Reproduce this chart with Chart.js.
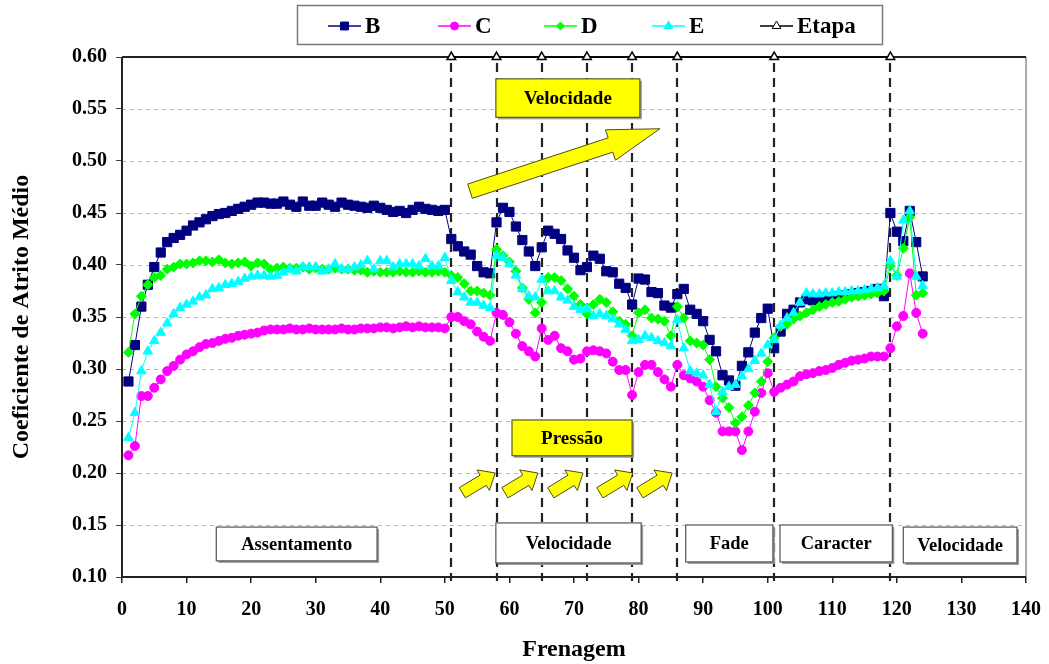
<!DOCTYPE html>
<html>
<head>
<meta charset="utf-8">
<script src="https://cdn.jsdelivr.net/npm/chart.js@4.4.0/dist/chart.umd.min.js"></script>
<style>
  html, body { margin: 0; padding: 0; background: #fff; }
  #wrap { width: 1049px; height: 664px; }
</style>
</head>
<body>
<div id="wrap"><canvas id="grafico" width="1049" height="664"></canvas></div>
<script>
// Coeficiente de atrito médio por frenagem, materiais B, C, D e E
var serieB = [
  0.288, 0.323, 0.360, 0.381, 0.398, 0.412, 0.422, 0.426, 0.429, 0.433,
  0.438, 0.441, 0.444, 0.447, 0.449, 0.450, 0.452, 0.454, 0.456, 0.458,
  0.460, 0.460, 0.459, 0.459, 0.461, 0.458, 0.456, 0.461, 0.457, 0.457,
  0.460, 0.458, 0.456, 0.460, 0.458, 0.457, 0.456, 0.455, 0.457, 0.455,
  0.453, 0.451, 0.452, 0.450, 0.453, 0.456, 0.454, 0.453, 0.452, 0.453,
  0.425, 0.418, 0.413, 0.410, 0.399, 0.393, 0.392, 0.441, 0.455, 0.451,
  0.437, 0.424, 0.413, 0.399, 0.417, 0.433, 0.430, 0.425, 0.414, 0.407,
  0.395, 0.398, 0.409, 0.406, 0.394, 0.393, 0.382, 0.378, 0.362, 0.387,
  0.386, 0.374, 0.373, 0.361, 0.359, 0.372, 0.377, 0.357, 0.353, 0.346,
  0.328, 0.317, 0.294, 0.289, 0.284, 0.303, 0.316, 0.335, 0.349, 0.358,
  0.320, 0.336, 0.353, 0.357, 0.364, 0.367, 0.366, 0.367, 0.369, 0.369,
  0.370, 0.371, 0.372, 0.373, 0.374, 0.375, 0.377, 0.370, 0.450, 0.432,
  0.423, 0.452, 0.422, 0.389
];
var serieC = [
  0.217, 0.226, 0.274, 0.274, 0.282, 0.290, 0.298, 0.303, 0.309, 0.314,
  0.317, 0.321, 0.324, 0.325, 0.327, 0.329, 0.330, 0.332, 0.333, 0.334,
  0.335, 0.337, 0.338, 0.338, 0.338, 0.339, 0.338, 0.338, 0.339, 0.338,
  0.338, 0.338, 0.338, 0.339, 0.338, 0.338, 0.339, 0.339, 0.339, 0.340,
  0.340, 0.339, 0.340, 0.341, 0.340, 0.341, 0.340, 0.340, 0.340, 0.339,
  0.350, 0.350, 0.346, 0.343, 0.336, 0.331, 0.327, 0.354, 0.352, 0.345,
  0.334, 0.322, 0.317, 0.312, 0.339, 0.328, 0.332, 0.320, 0.317, 0.309,
  0.310, 0.317, 0.318, 0.317, 0.315, 0.307, 0.299, 0.299, 0.275, 0.297,
  0.304, 0.304, 0.297, 0.290, 0.283, 0.304, 0.294, 0.291, 0.288, 0.283,
  0.270, 0.258, 0.240, 0.240, 0.240, 0.222, 0.240, 0.259, 0.277, 0.296,
  0.278, 0.282, 0.285, 0.288, 0.293, 0.295, 0.296, 0.298, 0.299, 0.301,
  0.304, 0.306, 0.308, 0.309, 0.310, 0.312, 0.312, 0.312, 0.320, 0.341,
  0.351, 0.392, 0.354, 0.334
];
var serieD = [
  0.316, 0.353, 0.370, 0.381, 0.388, 0.390, 0.396, 0.398, 0.401, 0.401,
  0.402, 0.404, 0.404, 0.403, 0.405, 0.402, 0.401, 0.402, 0.403, 0.399,
  0.402, 0.401, 0.396, 0.397, 0.398, 0.397, 0.397, 0.398, 0.396, 0.397,
  0.396, 0.396, 0.397, 0.396, 0.396, 0.395, 0.395, 0.393, 0.394, 0.393,
  0.393, 0.393, 0.394, 0.393, 0.393, 0.394, 0.393, 0.393, 0.394, 0.393,
  0.390, 0.388, 0.382, 0.375, 0.375, 0.373, 0.371, 0.415, 0.409, 0.403,
  0.394, 0.378, 0.367, 0.354, 0.364, 0.388, 0.388, 0.385, 0.377, 0.370,
  0.362, 0.353, 0.362, 0.367, 0.364, 0.355, 0.346, 0.343, 0.332, 0.354,
  0.357, 0.349, 0.348, 0.346, 0.332, 0.360, 0.349, 0.327, 0.325, 0.323,
  0.309, 0.283, 0.272, 0.263, 0.248, 0.254, 0.265, 0.277, 0.288, 0.307,
  0.330, 0.341, 0.343, 0.348, 0.351, 0.354, 0.357, 0.360, 0.362, 0.364,
  0.365, 0.367, 0.369, 0.370, 0.371, 0.372, 0.373, 0.375, 0.399, 0.390,
  0.416, 0.446, 0.371, 0.373
];
var serieE = [
  0.234, 0.258, 0.298, 0.317, 0.327, 0.335, 0.344, 0.353, 0.359, 0.362,
  0.365, 0.369, 0.371, 0.377, 0.378, 0.381, 0.382, 0.384, 0.387, 0.389,
  0.390, 0.390, 0.389, 0.390, 0.393, 0.396, 0.394, 0.398, 0.398, 0.398,
  0.394, 0.396, 0.401, 0.396, 0.396, 0.398, 0.400, 0.404, 0.396, 0.404,
  0.404, 0.398, 0.401, 0.401, 0.401, 0.399, 0.406, 0.399, 0.399, 0.407,
  0.385, 0.374, 0.369, 0.364, 0.364, 0.361, 0.359, 0.409, 0.407, 0.401,
  0.390, 0.377, 0.370, 0.369, 0.386, 0.375, 0.375, 0.369, 0.366, 0.360,
  0.357, 0.358, 0.351, 0.353, 0.351, 0.348, 0.343, 0.338, 0.327, 0.328,
  0.332, 0.330, 0.327, 0.325, 0.322, 0.347, 0.320, 0.298, 0.296, 0.294,
  0.285, 0.259, 0.278, 0.283, 0.285, 0.293, 0.300, 0.308, 0.315, 0.323,
  0.328, 0.342, 0.349, 0.354, 0.364, 0.373, 0.372, 0.372, 0.373, 0.373,
  0.374, 0.374, 0.375, 0.375, 0.376, 0.377, 0.378, 0.380, 0.404, 0.389,
  0.443, 0.452, 0.389, 0.380
];

// número da frenagem de cada ponto
var frenagem = [];
for (var n = 1; n <= serieB.length; n++) frenagem.push(n);

// início de cada etapa do ensaio
var etapas = [51, 58, 65, 72, 79, 86, 101, 119];
var etapaNivel = [0.6, 0.6, 0.6, 0.6, 0.6, 0.6, 0.6, 0.6];

var FONTE = '"Liberation Serif", "Times New Roman", serif';

function pontos(valores) {
  return valores.map(function (v, i) { return { x: frenagem[i], y: v }; });
}

// caixas de texto em coordenadas do gráfico
var caixas = [
  { texto: 'Assentamento', x0: 14.6, x1: 39.5, y0: 0.1155, y1: 0.148, fundo: '#ffffff' },
  { texto: 'Velocidade', x0: 57.9, x1: 80.4, y0: 0.1135, y1: 0.152, fundo: '#ffffff' },
  { texto: 'Fade', x0: 87.3, x1: 100.8, y0: 0.1145, y1: 0.150, fundo: '#ffffff' },
  { texto: 'Caracter', x0: 101.9, x1: 119.3, y0: 0.1145, y1: 0.150, fundo: '#ffffff' },
  { texto: 'Velocidade', x0: 121.0, x1: 138.6, y0: 0.1135, y1: 0.148, fundo: '#ffffff' },
  { texto: 'Velocidade', x0: 57.9, x1: 80.2, y0: 0.542, y1: 0.579, fundo: '#ffff00' },
  { texto: 'Pressão', x0: 60.4, x1: 79.0, y0: 0.2166, y1: 0.251, fundo: '#ffff00' }
];

// setas amarelas: origem e ponta
var setas = [
  { de: [53.9, 0.471], ate: [83.3, 0.531], corpo: 15, cabeca: 32, ponta: 52 },
  { de: [52.7, 0.181], ate: [57.8, 0.200], corpo: 12, cabeca: 24, ponta: 14 },
  { de: [59.3, 0.181], ate: [64.4, 0.200], corpo: 12, cabeca: 24, ponta: 14 },
  { de: [66.4, 0.181], ate: [71.4, 0.200], corpo: 12, cabeca: 24, ponta: 14 },
  { de: [74.0, 0.181], ate: [79.1, 0.200], corpo: 12, cabeca: 24, ponta: 14 },
  { de: [80.2, 0.181], ate: [85.2, 0.200], corpo: 12, cabeca: 24, ponta: 14 }
];

function marcador(ctx, tipo, x, y, r, fundo, borda) {
  ctx.save();
  ctx.fillStyle = fundo;
  ctx.strokeStyle = borda;
  ctx.lineWidth = 1;
  ctx.beginPath();
  if (tipo === 'rect') {
    ctx.rect(x - r * 0.72, y - r * 0.72, r * 1.44, r * 1.44);
  } else if (tipo === 'circle') {
    ctx.arc(x, y, r, 0, Math.PI * 2);
  } else if (tipo === 'rectRot') {
    ctx.moveTo(x, y - r); ctx.lineTo(x + r, y); ctx.lineTo(x, y + r); ctx.lineTo(x - r, y);
    ctx.closePath();
  } else if (tipo === 'triangle') {
    ctx.moveTo(x, y - r); ctx.lineTo(x + r * 0.87, y + r * 0.5); ctx.lineTo(x - r * 0.87, y + r * 0.5);
    ctx.closePath();
  }
  ctx.fill();
  ctx.stroke();
  ctx.restore();
}

function desenhaSeta(ctx, x0, y0, x1, y1, corpo, cabeca, ponta) {
  var dx = x1 - x0, dy = y1 - y0, len = Math.hypot(dx, dy);
  var ux = dx / len, uy = dy / len, px = -uy, py = ux;
  var bx = x1 - ux * ponta, by = y1 - uy * ponta;
  ctx.save();
  ctx.beginPath();
  ctx.moveTo(x0 + px * corpo / 2, y0 + py * corpo / 2);
  ctx.lineTo(bx + px * corpo / 2, by + py * corpo / 2);
  ctx.lineTo(bx + px * cabeca / 2, by + py * cabeca / 2);
  ctx.lineTo(x1, y1);
  ctx.lineTo(bx - px * cabeca / 2, by - py * cabeca / 2);
  ctx.lineTo(bx - px * corpo / 2, by - py * corpo / 2);
  ctx.lineTo(x0 - px * corpo / 2, y0 - py * corpo / 2);
  ctx.closePath();
  ctx.fillStyle = '#ffff00';
  ctx.fill();
  ctx.strokeStyle = '#4a4a20';
  ctx.lineWidth = 1;
  ctx.stroke();
  ctx.restore();
}

var anotacoes = {
  id: 'anotacoes',
  beforeDatasetsDraw: function (chart) {
    var ctx = chart.ctx, a = chart.chartArea;
    var xs = chart.scales.x, ys = chart.scales.y;
    ctx.save();
    // grade horizontal tracejada
    ctx.strokeStyle = '#b8b8b8';
    ctx.lineWidth = 1;
    ctx.setLineDash([4, 4]);
    ys.ticks.forEach(function (t) {
      var y = Math.round(ys.getPixelForValue(t.value)) + 0.5;
      ctx.beginPath();
      ctx.moveTo(a.left, y); ctx.lineTo(a.right, y);
      ctx.stroke();
    });
    ctx.setLineDash([]);
    // moldura da área de plotagem
    ctx.strokeStyle = '#8c8c8c';
    ctx.lineWidth = 1.5;
    ctx.beginPath();
    ctx.moveTo(a.right, a.top); ctx.lineTo(a.right, a.bottom);
    ctx.stroke();
    ctx.strokeStyle = '#222';
    ctx.lineWidth = 2;
    ctx.beginPath();
    ctx.moveTo(a.left, a.top); ctx.lineTo(a.right, a.top);
    ctx.moveTo(a.left, a.top); ctx.lineTo(a.left, a.bottom); ctx.lineTo(a.right, a.bottom);
    ctx.stroke();
    // linhas tracejadas das etapas
    ctx.strokeStyle = '#222';
    ctx.lineWidth = 2.2;
    ctx.setLineDash([9, 6]);
    etapas.forEach(function (e, i) {
      var x = Math.round(xs.getPixelForValue(e));
      ctx.beginPath();
      ctx.moveTo(x, ys.getPixelForValue(etapaNivel[i]) + 6);
      ctx.lineTo(x, a.bottom + 4);
      ctx.stroke();
    });
    ctx.restore();
  },
  afterDatasetsDraw: function (chart) {
    var ctx = chart.ctx;
    var xs = chart.scales.x, ys = chart.scales.y;
    setas.forEach(function (s) {
      desenhaSeta(ctx,
        xs.getPixelForValue(s.de[0]), ys.getPixelForValue(s.de[1]),
        xs.getPixelForValue(s.ate[0]), ys.getPixelForValue(s.ate[1]),
        s.corpo, s.cabeca, s.ponta);
    });
    caixas.forEach(function (c) {
      var l = xs.getPixelForValue(c.x0), r = xs.getPixelForValue(c.x1);
      var t = ys.getPixelForValue(c.y1), b = ys.getPixelForValue(c.y0);
      var amarela = c.fundo !== '#ffffff';
      ctx.save();
      ctx.fillStyle = '#9a9a9a';
      ctx.fillRect(l + 2, t + 2, r - l, b - t);
      ctx.fillStyle = c.fundo;
      ctx.fillRect(l, t, r - l, b - t);
      ctx.strokeStyle = amarela ? '#5a5a2a' : '#555';
      ctx.lineWidth = 1.2;
      ctx.strokeRect(l, t, r - l, b - t);
      ctx.fillStyle = '#000';
      ctx.font = 'bold ' + (amarela ? 19 : 18.5) + 'px ' + FONTE;
      ctx.textAlign = 'center';
      ctx.textBaseline = 'middle';
      ctx.fillText(c.texto, (l + r) / 2, (t + b) / 2 + 1);
      ctx.restore();
    });
  },
  afterDraw: function (chart) {
    var ctx = chart.ctx;
    // legenda
    ctx.save();
    ctx.fillStyle = '#fff';
    ctx.fillRect(297, 5, 585, 39);
    ctx.strokeStyle = '#7a7a7a';
    ctx.lineWidth = 1.5;
    ctx.strokeRect(297.5, 5.5, 585, 39);
    var yc = 26;
    chart.data.datasets.forEach(function (ds, i) {
      var x0 = [328, 438, 544, 652, 760][i];
      ctx.strokeStyle = ds.borderColor;
      ctx.lineWidth = 1.5;
      ctx.beginPath();
      ctx.moveTo(x0, yc); ctx.lineTo(x0 + 33, yc);
      ctx.stroke();
      marcador(ctx, ds.pointStyle, x0 + 16.5, yc,
        ds.pointStyle === 'rect' ? 5.5 : (ds.pointStyle === 'triangle' ? 5 : 4),
        ds.pointBackgroundColor, ds.pointBorderColor);
      ctx.fillStyle = '#000';
      ctx.font = 'bold 23px ' + FONTE;
      ctx.textAlign = 'left';
      ctx.textBaseline = 'middle';
      ctx.fillText(ds.label, x0 + 37, yc + 1);
    });
    ctx.restore();
  }
};

new Chart(document.getElementById('grafico'), {
  type: 'line',
  data: {
    datasets: [
      {
        label: 'B',
        data: pontos(serieB),
        borderColor: '#000080',
        backgroundColor: '#000080',
        pointBackgroundColor: '#000080',
        pointBorderColor: '#000080',
        pointStyle: 'rect',
        pointRadius: 6.5,
        borderWidth: 1,
        order: 4
      },
      {
        label: 'C',
        data: pontos(serieC),
        borderColor: '#ff00ff',
        backgroundColor: '#ff00ff',
        pointBackgroundColor: '#ff00ff',
        pointBorderColor: '#ff00ff',
        pointStyle: 'circle',
        pointRadius: 4.5,
        borderWidth: 1,
        order: 3
      },
      {
        label: 'D',
        data: pontos(serieD),
        borderColor: '#00ff00',
        backgroundColor: '#00ff00',
        pointBackgroundColor: '#00ff00',
        pointBorderColor: '#00ff00',
        pointStyle: 'rectRot',
        pointRadius: 5,
        borderWidth: 1,
        order: 2
      },
      {
        label: 'E',
        data: pontos(serieE),
        borderColor: '#00ffff',
        backgroundColor: '#00ffff',
        pointBackgroundColor: '#00ffff',
        pointBorderColor: '#00ffff',
        pointStyle: 'triangle',
        pointRadius: 5.5,
        borderWidth: 1,
        order: 1
      },
      {
        label: 'Etapa',
        data: etapas.map(function (e, i) { return { x: e, y: etapaNivel[i] }; }),
        borderColor: '#000',
        backgroundColor: '#fff',
        pointBackgroundColor: '#fff',
        pointBorderColor: '#000',
        pointStyle: 'triangle',
        pointRadius: 5,
        borderWidth: 1.5,
        clip: false,
        order: 0
      }
    ]
  },
  options: {
    responsive: false,
    animation: false,
    layout: { padding: { top: 57, right: 23, left: 0, bottom: 0 } },
    plugins: {
      legend: { display: false },
      tooltip: { enabled: false }
    },
    elements: { line: { tension: 0 } },
    scales: {
      x: {
        type: 'linear',
        min: 0,
        max: 140,
        afterFit: function (s) {
          s.height = 87;
          s.paddingLeft = 0;
          s.paddingRight = 0;
        },
        ticks: {
          stepSize: 10,
          color: '#000',
          padding: 15,
          maxRotation: 0,
          font: { family: FONTE, size: 20, weight: 'bold' }
        },
        grid: { drawOnChartArea: false, tickLength: 6, tickColor: '#222', lineWidth: 1.5 },
        border: { display: false },
        title: {
          display: true,
          text: 'Frenagem',
          color: '#000',
          padding: { top: 0, bottom: 0 },
          font: { family: FONTE, size: 24, weight: 'bold' }
        }
      },
      y: {
        min: 0.1,
        max: 0.6,
        afterFit: function (s) {
          s.width = 122;
          s.paddingTop = 0;
          s.paddingBottom = 0;
        },
        ticks: {
          stepSize: 0.05,
          color: '#000',
          padding: 9,
          callback: function (v) { return v.toFixed(2); },
          font: { family: FONTE, size: 20, weight: 'bold' }
        },
        grid: { drawOnChartArea: false, tickLength: 6, tickColor: '#444' },
        border: { display: false },
        title: {
          display: true,
          text: 'Coeficiente de Atrito Médio',
          color: '#000',
          padding: { top: 7, bottom: 0 },
          font: { family: FONTE, size: 24, weight: 'bold' }
        }
      }
    }
  },
  plugins: [anotacoes]
});
</script>
</body>
</html>
